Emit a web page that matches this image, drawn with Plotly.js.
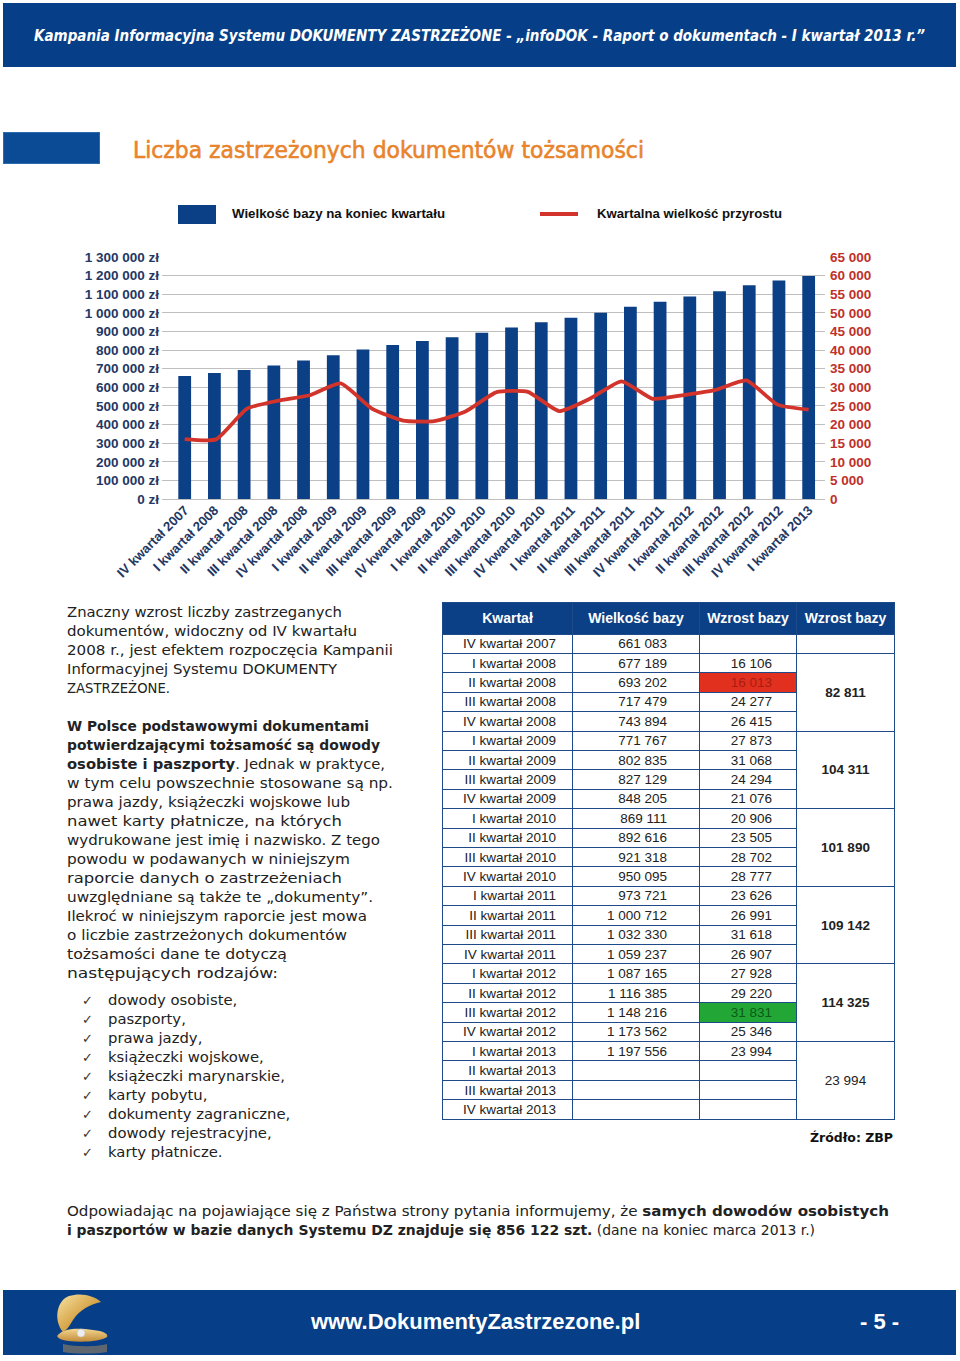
<!DOCTYPE html>
<html><head><meta charset="utf-8">
<script src="https://cdn.plot.ly/plotly-3.0.1.min.js"></script>
<style>
body{margin:0;width:960px;height:1361px;position:relative;background:#fff;overflow:hidden;font-family:"DejaVu Sans",sans-serif;color:#222;}
.abs{position:absolute;white-space:nowrap;}
.fit{transform-origin:left center;display:inline-block;}
#header{left:3px;top:3px;width:953px;height:64px;background:#063F87;}
#htext{left:34px;top:26px;color:#fff;font-style:italic;font-weight:bold;font-size:15px;line-height:20px;}
#title{left:133px;top:136px;color:#E8842C;font-size:22.5px;line-height:28px;-webkit-text-stroke:0.6px #E8842C;}
.leg{font-family:"Liberation Sans",Arial,sans-serif;font-weight:bold;font-size:12.5px;color:#111;line-height:16px;}
#para{left:67px;top:603px;font-size:14px;line-height:19px;color:#222;}
#para > div{height:19px;}
#list{left:82px;top:991px;font-size:14px;line-height:19px;color:#222;}
.chk{display:inline-block;width:26px;font-size:13px;color:#333;}
#bottom{left:67px;top:1202px;font-size:14px;line-height:19px;color:#222;}
#bottom > div{height:19px;}
#footer{left:3px;top:1290px;width:953px;height:65px;background:#063F87;}
#ftext{left:311px;top:1309px;color:#fff;font-family:"Liberation Sans",Arial,sans-serif;font-weight:bold;font-size:22px;line-height:26px;}
#fpage{left:860px;top:1309px;color:#fff;font-family:"Liberation Sans",Arial,sans-serif;font-weight:bold;font-size:22px;line-height:26px;}
#tbl{position:absolute;left:442px;top:602px;width:452px;border-collapse:collapse;table-layout:fixed;font-family:"Liberation Sans",Arial,sans-serif;font-size:13.5px;color:#222;}
#tbl td,#tbl th{border:1.5px solid #1E4A8A;padding:0;height:18.42px;line-height:17px;white-space:nowrap;overflow:hidden;}
#tbl th{background:#0B3F86;color:#fff;font-weight:bold;height:30.5px;font-size:14px;}
#tbl td.q{text-align:right;padding-right:16px;}
#tbl td.b{text-align:right;padding-right:32px;}
#tbl td.g{text-align:right;padding-right:24px;}
#tbl td.y{text-align:center;font-weight:bold;}
#src{right:67px;top:1130px;font-weight:bold;font-size:12.5px;color:#111;}
#chart{position:absolute;left:0;top:230px;width:960px;height:370px;}
</style></head><body>

<div class="abs" id="header"></div>
<div class="abs" id="htext"><span class="fit" data-w="891">Kampania Informacyjna Systemu DOKUMENTY ZASTRZEŻONE - „infoDOK - Raport o dokumentach - I kwartał 2013 r.”</span></div>

<div class="abs" style="left:3px;top:132px;width:97px;height:32px;background:#0B4A94;border:1px solid #2d6bb0;box-sizing:border-box;"></div>
<div class="abs" id="title"><span class="fit" data-w="511">Liczba zastrzeżonych dokumentów tożsamości</span></div>

<div class="abs" style="left:178px;top:205px;width:38px;height:19px;background:#0B3F86;"></div>
<div class="abs leg" style="left:232px;top:206px;"><span class="fit" data-w="213">Wielkość bazy na koniec kwartału</span></div>
<div class="abs" style="left:540px;top:212px;width:38px;height:4px;background:#D2332A;"></div>
<div class="abs leg" style="left:597px;top:206px;"><span class="fit" data-w="185">Kwartalna wielkość przyrostu</span></div>

<div id="chart"></div>

<div class="abs" id="para">
<div><span class="fit" data-w="275">Znaczny wzrost liczby zastrzeganych</span></div>
<div><span class="fit" data-w="290">dokumentów, widoczny od IV kwartału</span></div>
<div><span class="fit" data-w="326">2008 r., jest efektem rozpoczęcia Kampanii</span></div>
<div><span class="fit" data-w="270">Informacyjnej Systemu DOKUMENTY</span></div>
<div><span class="fit" data-w="103">ZASTRZEŻONE.</span></div>
<div></div>
<div><span class="fit" data-w="302"><b>W Polsce podstawowymi dokumentami</b></span></div>
<div><span class="fit" data-w="313"><b>potwierdzającymi tożsamość są dowody</b></span></div>
<div><span class="fit" data-w="318"><b>osobiste i paszporty</b>. Jednak w praktyce,</span></div>
<div><span class="fit" data-w="326">w tym celu powszechnie stosowane są np.</span></div>
<div><span class="fit" data-w="283">prawa jazdy, książeczki wojskowe lub</span></div>
<div><span class="fit" data-w="275">nawet karty płatnicze, na których</span></div>
<div><span class="fit" data-w="313">wydrukowane jest imię i nazwisko. Z tego</span></div>
<div><span class="fit" data-w="283">powodu w podawanych w niniejszym</span></div>
<div><span class="fit" data-w="275">raporcie danych o zastrzeżeniach</span></div>
<div><span class="fit" data-w="306">uwzględniane są także te „dokumenty”.</span></div>
<div><span class="fit" data-w="300">Ilekroć w niniejszym raporcie jest mowa</span></div>
<div><span class="fit" data-w="280">o liczbie zastrzeżonych dokumentów</span></div>
<div><span class="fit" data-w="220">tożsamości dane te dotyczą</span></div>
<div><span class="fit" data-w="211">następujących rodzajów:</span></div>
</div>

<div class="abs" id="list"></div>

<table id="tbl"></table>
<div class="abs" id="src">Źródło: ZBP</div>

<div class="abs" id="bottom">
<div><span class="fit" data-w="822">Odpowiadając na pojawiające się z Państwa strony pytania informujemy, że <b>samych dowodów osobistych</b></span></div>
<div><span class="fit" data-w="748"><b>i paszportów w bazie danych Systemu DZ znajduje się 856 122 szt.</b> (dane na koniec marca 2013 r.)</span></div>
</div>

<div class="abs" id="footer"></div>
<svg class="abs" style="left:45px;top:1290px;" width="75" height="66" viewBox="0 0 75 66">
<defs>
<linearGradient id="gold" x1="0" y1="0" x2="1" y2="1"><stop offset="0" stop-color="#F7E3A6"/><stop offset="0.5" stop-color="#D9A94E"/><stop offset="1" stop-color="#A8742A"/></linearGradient>
<linearGradient id="gold2" x1="0" y1="0" x2="0" y2="1"><stop offset="0" stop-color="#F2D58E"/><stop offset="1" stop-color="#C28B3A"/></linearGradient>
</defs>
<path d="M18 42 C8 30 12 10 24 6 C36 2 50 6 56 12 C46 14 34 20 28 30 C25 35 22 40 18 42 Z" fill="url(#gold)"/>
<path d="M14 44 C20 38 34 38 48 40 C58 41 64 44 62 47 C56 52 30 53 18 50 C12 48 11 46 14 44 Z" fill="url(#gold2)"/>
<circle cx="36" cy="43" r="4" fill="#EDEDED" stroke="#bbb" stroke-width="0.5"/>
<path d="M18 54 C30 57 52 57 62 54 L62 62 C50 64 30 64 18 62 Z" fill="#C99A55" opacity="0.45"/>
</svg>
<div class="abs" id="ftext">www.DokumentyZastrzezone.pl</div>
<div class="abs" id="fpage">- 5 -</div>

<script>
// ---------- DATA ----------
const quarters = ["IV kwartał 2007","I kwartał 2008","II kwartał 2008","III kwartał 2008","IV kwartał 2008",
  "I kwartał 2009","II kwartał 2009","III kwartał 2009","IV kwartał 2009",
  "I kwartał 2010","II kwartał 2010","III kwartał 2010","IV kwartał 2010",
  "I kwartał 2011","II kwartał 2011","III kwartał 2011","IV kwartał 2011",
  "I kwartał 2012","II kwartał 2012","III kwartał 2012","IV kwartał 2012",
  "I kwartał 2013","II kwartał 2013","III kwartał 2013","IV kwartał 2013"];
const baseSize = [661083, 677189, 693202, 717479, 743894, 771767, 802835, 827129, 848205, 869111, 892616,
  921318, 950095, 973721, 1000712, 1032330, 1059237, 1087165, 1116385, 1148216, 1173562, 1197556];
const quarterGrowth = [16106, 16013, 24277, 26415, 27873, 31068, 24294, 21076, 20906, 23505, 28702,
  28777, 23626, 26991, 31618, 26907, 27928, 29220, 31831, 25346, 23994];
const yearlyGrowth = [82811, 104311, 101890, 109142, 114325, 23994];
const docTypes = ["dowody osobiste,","paszporty,","prawa jazdy,","książeczki wojskowe,","książeczki marynarskie,",
  "karty pobytu,","dokumenty zagraniczne,","dowody rejestracyjne,","karty płatnicze."];
const seriesNames = ["Wielkość bazy na koniec kwartału","Kwartalna wielkość przyrostu"];

function fmt(n){ return n.toString().replace(/\B(?=(\d{3})+(?!\d))/g, ' '); }

// ---------- LIST ----------
document.getElementById('list').innerHTML = docTypes.map(t =>
  '<div style="height:19px"><span class="chk">✓</span><span class="fit lst" style="display:inline-block">' + t + '</span></div>').join('');

// ---------- TABLE ----------
(function(){
  const tbl = document.getElementById('tbl');
  let h = '<colgroup><col style="width:130px"><col style="width:127px"><col style="width:97px"><col style="width:98px"></colgroup>';
  h += '<tr><th>Kwartał</th><th>Wielkość bazy</th><th>Wzrost bazy</th><th>Wzrost bazy</th></tr>';
  let minI = 0, maxI = 0;
  quarterGrowth.forEach((v,i)=>{ if(v<quarterGrowth[minI]) minI=i; if(v>quarterGrowth[maxI]) maxI=i; });
  for (let r = 0; r < quarters.length; r++) {
    h += '<tr>';
    h += '<td class="q">' + quarters[r] + '</td>';
    h += '<td class="b">' + (r < baseSize.length ? fmt(baseSize[r]) : '') + '</td>';
    const gi = r - 1;
    let style = '';
    if (gi === minI) style = ' style="background:#E2301F;color:#A81E12"';
    if (gi === maxI) style = ' style="background:#22A636;color:#0B5A16"';
    h += '<td class="g"' + style + '>' + (gi >= 0 && gi < quarterGrowth.length ? fmt(quarterGrowth[gi]) : '') + '</td>';
    if (r === 0) h += '<td></td>';
    else if ((r - 1) % 4 === 0) {
      const yi = (r - 1) / 4;
      const last = yi === yearlyGrowth.length - 1;
      h += '<td rowspan="4" class="y"' + (last ? ' style="font-weight:normal"' : '') + '>' + fmt(yearlyGrowth[yi]) + '</td>';
    }
    h += '</tr>';
  }
  tbl.innerHTML = h;
})();

// ---------- FIT TEXT WIDTHS ----------
function fitEl(el, w){
  const cur = el.getBoundingClientRect().width;
  if (cur > 0) el.style.transform = 'scaleX(' + (w/cur) + ')';
  return w/cur;
}
let paraK = 1;
document.querySelectorAll('.fit[data-w]').forEach((el, i) => {
  const k = fitEl(el, +el.dataset.w);
  if (el.textContent.indexOf('Znaczny') === 0) paraK = k;
});
document.querySelectorAll('.lst').forEach(s => { s.style.transform = 'scaleX(' + paraK + ')'; });

// ---------- CHART ----------
const barCats = quarters.slice(0, baseSize.length);
const lineCats = quarters.slice(1, baseSize.length);
const xRange = [-0.764, 21.55];
const k2 = (lineCats.length - 1) / (barCats.length - 1);
const x2Range = xRange.map(v => v * k2);

const axisFont = {family: '"Liberation Sans", Arial, sans-serif', size: 13.5, weight: 'bold'};

Plotly.newPlot('chart', [
  {type: 'bar', name: seriesNames[0], x: barCats, y: baseSize, xaxis: 'x', yaxis: 'y',
   marker: {color: '#0B3F86'}, width: 0.43, hoverinfo: 'x+y'},
  {type: 'scatter', mode: 'lines', name: seriesNames[1], x: lineCats, y: quarterGrowth, xaxis: 'x2', yaxis: 'y2',
   line: {color: '#D2332A', width: 3.8, shape: 'spline', smoothing: 0.5}}
], {
  width: 960, height: 370,
  margin: {l: 162, r: 135, t: 27, b: 101},
  paper_bgcolor: 'rgba(0,0,0,0)', plot_bgcolor: 'rgba(0,0,0,0)',
  showlegend: false,
  separators: ', ',
  xaxis: {type: 'category', range: xRange, tickangle: -45, showgrid: false, showline: false, ticks: '',
          tickfont: {family: '"Liberation Sans", Arial, sans-serif', size: 13.2, weight: 'bold', color: '#1F3864'}},
  xaxis2: {type: 'category', overlaying: 'x', range: x2Range, visible: false},
  yaxis: {range: [0, 1300000], dtick: 100000, tickformat: ',d', ticksuffix: ' zł',
          gridcolor: '#BFBFBF', gridwidth: 1, zeroline: true, zerolinecolor: '#BFBFBF', zerolinewidth: 1,
          tickfont: Object.assign({color: '#1F3864'}, axisFont), ticks: '', ticklabelstandoff: 2},
  yaxis2: {overlaying: 'y', side: 'right', range: [0, 65000], dtick: 5000, tickformat: ',d', showgrid: false,
           zeroline: false, tickfont: Object.assign({color: '#C0302A'}, axisFont), ticks: '', ticklabelstandoff: 4}
}, {displayModeBar: false, staticPlot: true});
</script>
</body></html>
